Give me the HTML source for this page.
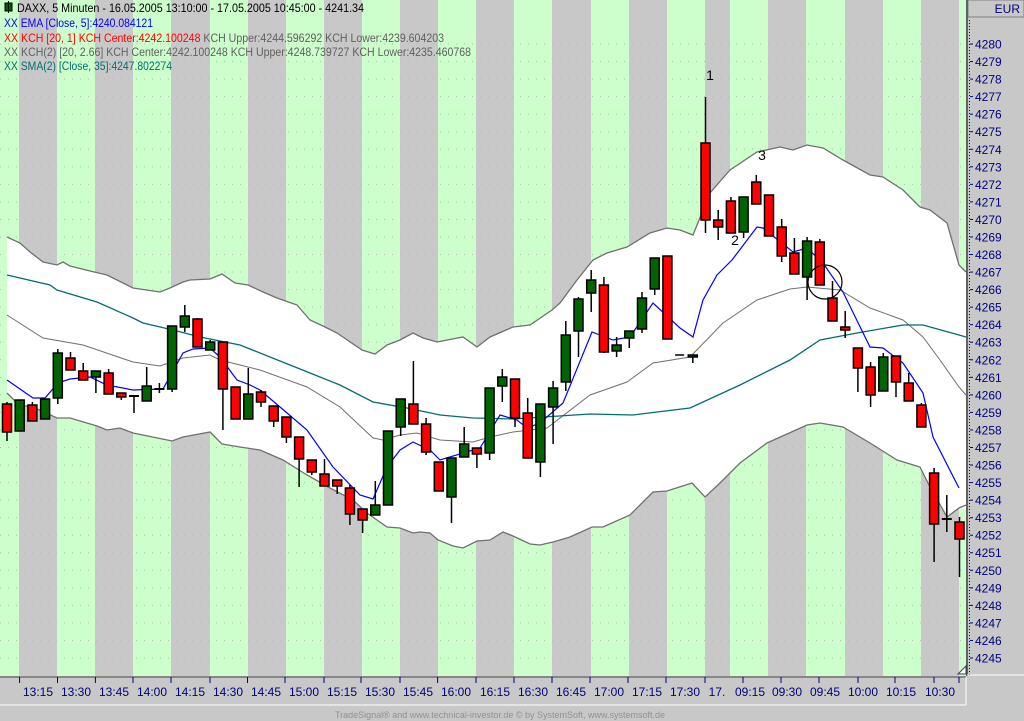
<!DOCTYPE html>
<html><head><meta charset="utf-8"><style>
html,body{margin:0;padding:0;background:#c8c8c8;}
svg{display:block;font-family:"Liberation Sans",sans-serif;}
</style></head><body>
<svg id="s" width="1024" height="721" viewBox="0 0 1024 721" xmlns="http://www.w3.org/2000/svg">
<rect x="0" y="0" width="1024" height="721" fill="#c8c8c8"/>
<g id="stripes" fill="#ccffcc">
<rect x="0" y="0" width="19" height="676"/>
<rect x="57" y="0" width="38" height="676"/>
<rect x="133" y="0" width="38" height="676"/>
<rect x="210" y="0" width="38" height="676"/>
<rect x="286" y="0" width="38" height="676"/>
<rect x="362" y="0" width="38" height="676"/>
<rect x="438" y="0" width="38" height="676"/>
<rect x="514" y="0" width="38" height="676"/>
<rect x="591" y="0" width="38" height="676"/>
<rect x="667" y="0" width="38" height="676"/>
<rect x="730" y="0" width="38" height="676"/>
<rect x="806" y="0" width="39" height="676"/>
<rect x="883" y="0" width="38" height="676"/>
<rect x="959" y="0" width="7" height="676"/>
</g>
<g id="grid" stroke="#b8b8b8" stroke-width="1" stroke-dasharray="1,7"></g>
<polygon fill="#ffffff" stroke="none" points="7,237 20,243 30,252 43,262 57,265 63,262 70,266 90,271 107,275 133,288 160,292 170,288 183,282 190,280 210,279 222,274 235,283 248,285 263,292 277,298 297,305 310,320 323,326 337,333 362,350 375,354 387,345 400,340 413,333 423,338 437,342 463,337 477,347 490,337 513,327 530,325 552,310 560,303 577,280 593,260 607,253 627,247 650,233 667,228 680,230 693,235 710,193 730,170 757,152 780,147 793,150 807,145 823,148 843,160 870,175 883,177 903,190 920,207 930,210 947,223 959,265 966,272 966,510 959,508 947,517 930,487 920,467 897,460 870,443 843,427 820,423 807,425 767,443 740,463 720,483 705,497 692,483 667,491 653,492 630,515 603,527 592,527 570,537 553,542 540,545 530,544 513,536 503,532 490,540 477,541 463,548 453,546 438,540 430,533 420,532 413,533 400,528 387,527 367,513 353,500 330,488 307,475 283,460 260,450 240,447 222,444 210,432 183,437 172,441 133,433 120,428 107,430 97,426 70,418 57,418 33,407 19,405 7,393"/>
<polyline fill="none" stroke="#707070" stroke-width="1.3" points="7,237 20,243 30,252 43,262 57,265 63,262 70,266 90,271 107,275 133,288 160,292 170,288 183,282 190,280 210,279 222,274 235,283 248,285 263,292 277,298 297,305 310,320 323,326 337,333 362,350 375,354 387,345 400,340 413,333 423,338 437,342 463,337 477,347 490,337 513,327 530,325 552,310 560,303 577,280 593,260 607,253 627,247 650,233 667,228 680,230 693,235 710,193 730,170 757,152 780,147 793,150 807,145 823,148 843,160 870,175 883,177 903,190 920,207 930,210 947,223 959,265 966,272"/>
<polyline fill="none" stroke="#707070" stroke-width="1.3" points="7,393 19,405 33,407 57,418 70,418 97,426 107,430 120,428 133,433 172,441 183,437 210,432 222,444 240,447 260,450 283,460 307,475 330,488 353,500 367,513 387,527 400,528 413,533 420,532 430,533 438,540 453,546 463,548 477,541 490,540 503,532 513,536 530,544 540,545 553,542 570,537 592,527 603,527 630,515 653,492 667,491 692,483 705,497 720,483 740,463 767,443 807,425 820,423 843,427 870,443 897,460 920,467 930,487 947,517 959,508 966,505"/>
<polyline fill="none" stroke="#707070" stroke-width="1" points="7,315 43,338 83,345 133,362 160,366 183,358 210,355 220,360 240,365 260,370 307,387 340,407 373,438 383,440 400,435 417,433 440,440 473,442 490,437 513,432 547,428 590,395 627,382 653,363 690,357 723,323 757,300 790,289 807,287 840,290 870,308 903,320 923,337 940,360 959,387 966,395"/>
<polyline fill="none" stroke="#006e6e" stroke-width="1.3" points="7,275 50,285 57,290 97,302 133,318 143,323 173,330 200,337 240,345 290,365 340,385 373,402 407,408 440,415 473,418 513,419 590,414 633,415 657,412 690,408 740,385 790,360 820,340 857,333 903,325 923,325 959,335 966,337"/>
<polyline fill="none" stroke="#0000ff" stroke-width="1.2" points="7,380 33,398 45,398 58,383 70,379 90,377 107,385 133,390 163,389 183,353 193,349 210,348 220,357 237,380 250,385 260,390 280,407 307,430 333,467 360,495 373,499 387,467 400,450 413,442 430,450 440,460 480,448 500,415 517,420 527,428 540,423 563,403 592,332 613,340 630,337 653,303 680,328 693,337 703,300 717,275 732,260 757,227 763,228 793,252 807,248 823,263 843,292 870,347 883,348 903,363 923,393 933,437 959,488"/>
<g id="candles" stroke="#000" stroke-width="1.5"></g>
<circle cx="825" cy="282" r="17" fill="none" stroke="#000" stroke-width="1.2"/>
<text x="710" y="80" font-size="14" text-anchor="middle" fill="#000">1</text>
<text x="762" y="160" font-size="14" text-anchor="middle" fill="#000">3</text>
<text x="735" y="245" font-size="14" text-anchor="middle" fill="#000">2</text>
<!-- legend -->
<g font-size="12">
<rect x="5" y="3" width="7" height="8" fill="#006400" stroke="#000"/>
<line x1="8.5" y1="1" x2="8.5" y2="13" stroke="#000"/>
<text x="17" y="12" fill="#000" textLength="347" lengthAdjust="spacingAndGlyphs">DAXX, 5 Minuten - 16.05.2005 13:10:00 - 17.05.2005 10:45:00 - 4241.34</text>
<text x="4" y="27" fill="#0000ff" textLength="149" lengthAdjust="spacingAndGlyphs">XX EMA [Close, 5]:4240.084121</text>
<text x="4" y="42" fill="#ff0000" textLength="440" lengthAdjust="spacingAndGlyphs">XX KCH [20, 1] KCH Center:4242.100248 <tspan fill="#606060">KCH Upper:4244.596292 KCH Lower:4239.604203</tspan></text>
<text x="4" y="56" fill="#606060" textLength="467" lengthAdjust="spacingAndGlyphs">XX KCH(2) [20, 2.66] KCH Center:4242.100248 KCH Upper:4248.739727 KCH Lower:4235.460768</text>
<text x="4" y="70" fill="#006e6e" textLength="168" lengthAdjust="spacingAndGlyphs">XX SMA(2) [Close, 35]:4247.802274</text>
</g>
<!-- right axis -->
<line x1="967" y1="0" x2="967" y2="676" stroke="#404040" stroke-width="1.5"/>
<rect x="968" y="0" width="56" height="17" fill="#c8c8c8" stroke="#808080"/>
<text x="1020" y="13" font-size="12" text-anchor="end" fill="#000080">EUR</text>
<line x1="969.5" y1="20" x2="969.5" y2="675" stroke="#000080" stroke-dasharray="1,2"/>
<line x1="967" y1="675" x2="1024" y2="675" stroke="#fff"/>
<g id="ylab" font-size="12" fill="#000080"></g>
<polygon points="958,674 966,666 966,674" fill="#fff" stroke="#404040"/>
<!-- bottom axis -->
<line x1="0" y1="677" x2="966" y2="677" stroke="#707070" stroke-width="1.5"/>
<line x1="0" y1="705" x2="966" y2="705" stroke="#fff"/>
<line x1="966" y1="677" x2="966" y2="705" stroke="#fff"/>
<g id="xt" stroke="#000080"></g>
<g font-size="12" fill="#000080" text-anchor="middle">
<text x="38" y="696">13:15</text><text x="76" y="696">13:30</text><text x="114" y="696">13:45</text><text x="152" y="696">14:00</text><text x="190" y="696">14:15</text><text x="228" y="696">14:30</text><text x="266" y="696">14:45</text><text x="304" y="696">15:00</text><text x="342" y="696">15:15</text><text x="380" y="696">15:30</text><text x="418" y="696">15:45</text><text x="456" y="696">16:00</text><text x="495" y="696">16:15</text><text x="533" y="696">16:30</text><text x="571" y="696">16:45</text><text x="609" y="696">17:00</text><text x="647" y="696">17:15</text><text x="685" y="696">17:30</text><text x="717" y="696">17.</text><text x="750" y="696">09:15</text><text x="787" y="696">09:30</text><text x="825" y="696">09:45</text><text x="863" y="696">10:00</text><text x="901" y="696">10:15</text><text x="940" y="696">10:30</text>
</g>
<text x="500" y="718" font-size="9" fill="#909090" text-anchor="middle">TradeSignal® and www.technical-investor.de © by  SystemSoft, www.systemsoft.de</text>
</svg>
<script>
var NS="http://www.w3.org/2000/svg";
function el(p,t,a){var e=document.createElementNS(NS,t);for(var k in a)e.setAttribute(k,a[k]);p.appendChild(e);return e;}
var g=document.getElementById('grid');
for(var p=4245;p<=4280;p++){var y=44+(4280-p)*17.543;el(g,'line',{x1:0,y1:y,x2:966,y2:y});}
var yl=document.getElementById('ylab');
for(var p=4245;p<=4280;p++){var y=44+(4280-p)*17.543;el(yl,'line',{x1:970,y1:y,x2:973,y2:y,stroke:'#000080'});var t=el(yl,'text',{x:975,y:y+4.5});t.textContent=String(p);}
var xt=document.getElementById('xt');
[19.6,57.5,95.4,133,171,210,247.5,285,324,361,400,437.6,476,514,552,590,628,666,705,743,781,819,858,895,934,959].forEach(function(x){el(xt,'line',{x1:x,y1:677,x2:x,y2:683});});
var C=[[402,404,432,441,'r'],[400,400,431,431,'g'],[402,405,421,421,'r'],[399,399,419,419,'g'],[349,353,398,404,'g'],[352,358,370,370,'r'],[363,371,380,380,'r'],[371,371,377,393,'g'],[369,373,394,394,'r'],[393,393,397,400,'r'],[396,396,396,413,'d'],[367,386,401,401,'g'],[383,389,389,393,'d'],[326,326,389,392,'g'],[305,316,327,332,'g'],[318,319,347,347,'r'],[340,342,350,350,'g'],[342,342,389,430,'r'],[387,387,419,419,'r'],[368,394,419,419,'g'],[390,392,402,407,'r'],[406,406,421,427,'r'],[417,417,437,443,'r'],[437,437,459,487,'r'],[460,460,472,475,'r'],[459,474,486,486,'r'],[480,480,486,494,'r'],[485,488,514,525,'r'],[509,509,520,533,'r'],[481,505,515,515,'g'],[431,431,505,505,'g'],[399,399,427,436,'g'],[361,404,424,424,'r'],[418,424,452,455,'r'],[462,462,491,491,'r'],[458,458,497,523,'g'],[427,444,457,457,'g'],[448,448,454,468,'r'],[388,388,453,460,'g'],[369,377,386,402,'g'],[379,379,418,427,'r'],[398,413,458,458,'r'],[404,404,462,477,'g'],[381,388,407,444,'g'],[321,335,382,391,'g'],[297,299,331,357,'g'],[270,280,293,312,'g'],[277,285,352,353,'r'],[337,345,351,357,'g'],[331,331,338,348,'g'],[292,298,329,333,'g'],[258,258,289,295,'g'],[256,256,339,339,'r'],[355,355,355,355,'d'],[355,355,357,363,'g'],[97,143,220,233,'r'],[210,220,227,240,'r'],[197,201,233,233,'r'],[197,197,232,238,'g'],[175,182,204,204,'r'],[195,195,236,236,'r'],[219,227,256,262,'r'],[238,253,274,274,'r'],[237,241,277,300,'g'],[239,242,285,285,'r'],[281,298,321,321,'r'],[311,327,330,338,'r'],[348,348,368,392,'r'],[362,367,395,407,'r'],[353,357,391,391,'g'],[356,356,382,397,'r'],[373,383,401,401,'r'],[403,405,427,427,'r'],[468,473,524,562,'r'],[495,519,519,532,'d'],[517,522,539,577,'r']];
var cg=document.getElementById('candles');
C.forEach(function(c,i){var x=7+12.7*i;
 if(i==53){el(cg,'line',{x1:x-5,y1:355,x2:x+4,y2:355});return;}
 el(cg,'line',{x1:x,y1:c[0],x2:x,y2:c[3]});
 if(c[4]=='d'){el(cg,'line',{x1:x-5,y1:c[1],x2:x+5,y2:c[1],'stroke-width':2});return;}
 var h=Math.max(c[2]-c[1],2);
 el(cg,'rect',{x:x-4.5,y:c[1],width:9,height:h,fill:c[4]=='r'?'#ff0000':'#006400'});
});
</script>
</body></html>
